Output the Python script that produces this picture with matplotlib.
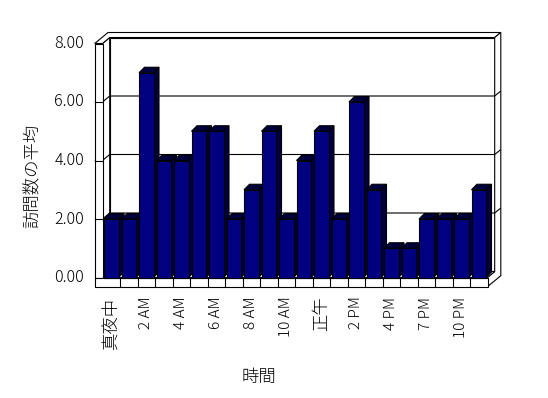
import matplotlib
matplotlib.use("Agg")
import matplotlib.pyplot as plt
from matplotlib.patches import Polygon, Rectangle

plt.rcParams['font.family'] = ['Noto Sans CJK JP', 'DejaVu Sans']
plt.rcParams['font.weight'] = 'light'

# Data: average number of visits per hour of day
hours = ["真夜中", "1 AM", "2 AM", "3 AM", "4 AM", "5 AM", "6 AM", "7 AM",
         "8 AM", "9 AM", "10 AM", "11 AM", "正午", "1 PM", "2 PM", "3 PM",
         "4 PM", "5 PM", "7 PM", "8 PM", "10 PM", "11 PM"]
visits = [2, 2, 7, 4, 4, 5, 5, 2, 3, 5, 2, 4, 5, 2, 6, 3, 1, 1, 2, 2, 2, 3]
yticks = [0, 2, 4, 6, 8]

x_label = "時間"
y_label = "訪問数の平均"

# pseudo-3D geometry (data units; 1 category = 17.5 px, 1 unit = 29.25 px)
PX, PY = 17.5, 29.25
wall = (7.2 / PX, 6.0 / PY)        # front plane -> back wall inner face
outer = (13.3 / PX, 11.0 / PY)     # front plane -> back wall outer face
depth = (5.5 / PX, 5.5 / PY)       # bar depth
left_t = 7.8 / PX                  # left wall thickness
floor_t = 9.2 / PY                 # floor thickness
bar_w = 14.5 / PX

front_col = "#000080"
shade_col = "#00003c"
lw = 0.8

n = len(visits)
x0, x1 = -0.5, n - 0.5
ymax = yticks[-1]
xl = x0 - left_t

fig = plt.figure(figsize=(5.48, 3.98), dpi=100)
ax = fig.add_axes([102.5 / 548, 120.5 / 398, 385 / 548, 234 / 398])
ax.set_xlim(x0, x1)
ax.set_ylim(0, ymax)
ax.axis("off")


def poly(pts, fc="white", z=1):
    ax.add_patch(Polygon(pts, closed=True, facecolor=fc, edgecolor="black",
                         linewidth=lw, clip_on=False, zorder=z))


def line(xs, ys, z=2):
    ax.plot(xs, ys, color="black", linewidth=lw, clip_on=False, zorder=z,
            solid_capstyle="butt")


# back wall inner face
poly([(x0 + wall[0], wall[1]), (x1 + wall[0], wall[1]),
      (x1 + wall[0], ymax + wall[1]), (x0 + wall[0], ymax + wall[1])])
# left wall inner face
poly([(x0, 0), (x0 + wall[0], wall[1]), (x0 + wall[0], ymax + wall[1]), (x0, ymax)])
# top of walls
poly([(xl, ymax), (x0, ymax), (x0 + wall[0], ymax + wall[1]),
      (x1 + wall[0], ymax + wall[1]), (x1 + outer[0], ymax + outer[1]),
      (xl + outer[0], ymax + outer[1])])
# right side of back wall and floor
poly([(x1 + wall[0], ymax + wall[1]), (x1 + outer[0], ymax + outer[1]),
      (x1 + outer[0], -floor_t + outer[1]), (x1, -floor_t), (x1, 0),
      (x1 + wall[0], wall[1])])
# gridlines wrapping round the walls
for v in yticks[1:-1]:
    line([xl, x0, x0 + wall[0], x1 + wall[0], x1 + outer[0]],
         [v, v, v + wall[1], v + wall[1], v + outer[1]])
# left wall front face
poly([(xl, 0), (x0, 0), (x0, ymax), (xl, ymax)], z=3)
for v in yticks[1:-1]:
    line([xl, x0], [v, v], z=3)
# floor top + front
poly([(x0, 0), (x1, 0), (x1 + wall[0], wall[1]), (x0 + wall[0], wall[1])])
poly([(xl, -floor_t), (x1, -floor_t), (x1, 0), (xl, 0)], z=3)
for i in range(n - 1):
    line([i + 0.5, i + 0.5], [-floor_t, 0], z=3)

# bars, left to right so each covers its neighbour's side
for i, v in enumerate(visits):
    a, b = i - bar_w / 2, i + bar_w / 2
    poly([(b, 0), (b + depth[0], depth[1]), (b + depth[0], v + depth[1]), (b, v)],
         fc=shade_col, z=4)
    poly([(a, v), (b, v), (b + depth[0], v + depth[1]), (a + depth[0], v + depth[1])],
         fc=shade_col, z=4)
    ax.add_patch(Rectangle((a, 0), bar_w, v, facecolor=front_col, edgecolor="black",
                           linewidth=lw, clip_on=False, zorder=4))

# tick labels
for v in yticks:
    ax.text(xl - 0.6, v, f"{v:.2f}", ha="right", va="center", fontsize=11.5)
for i in range(0, n, 2):
    size = 11 if hours[i].isascii() else 12.5
    ax.text(i, -0.65, hours[i], rotation=90, ha="center", va="top", fontsize=size)

fig.text(33 / 548, 1 - 176 / 398, y_label, rotation=90, ha="center", va="center",
         fontsize=12.5)
fig.text(259 / 548, 1 - 377 / 398, x_label, ha="center", va="center", fontsize=12.5)

fig.savefig("out.png", dpi=100)
